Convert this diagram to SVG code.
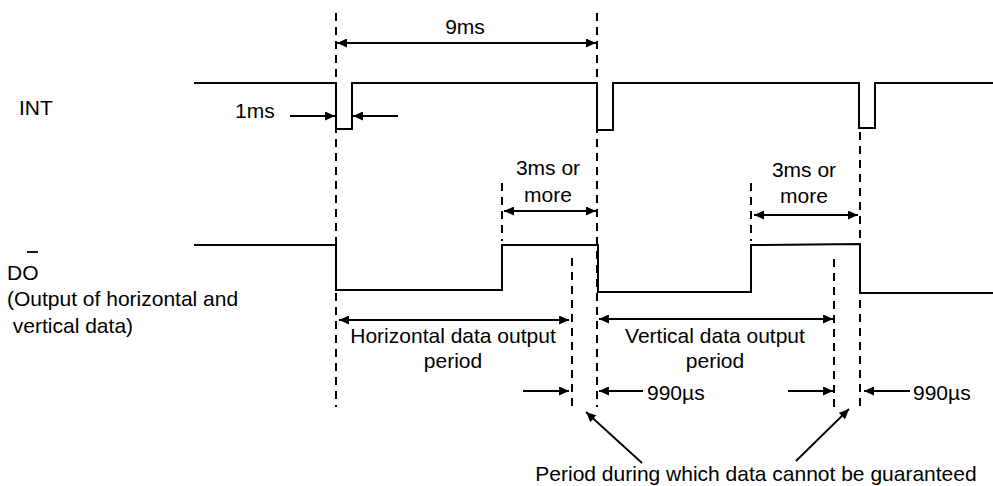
<svg xmlns="http://www.w3.org/2000/svg" width="993" height="486" viewBox="0 0 993 486">
<defs>
<style>
.sig{fill:none;stroke:#000;stroke-width:2}
.dash{fill:none;stroke:#000;stroke-width:2;stroke-dasharray:8 6}
.arr{fill:none;stroke:#000;stroke-width:1.8;marker-end:url(#ah)}
.dbl{fill:none;stroke:#000;stroke-width:1.8;marker-end:url(#ah);marker-start:url(#ah)}
text{font-family:"Liberation Sans",Arial,sans-serif;font-size:21px;fill:#000}
.c{text-anchor:middle}
</style>
<marker id="ah" markerUnits="userSpaceOnUse" markerWidth="11" markerHeight="9" refX="10" refY="4.5" orient="auto-start-reverse">
<path d="M0,0 L10,4.5 L0,9 Z" fill="#000"/>
</marker>
</defs>
<rect width="993" height="486" fill="#fff"/>

<g id="guides">
<line class="dash" x1="336" y1="13" x2="336" y2="407"/>
<line class="dash" x1="597" y1="13" x2="597" y2="407"/>
<line class="dash" x1="860" y1="132" x2="860" y2="407"/>
<line class="dash" x1="502" y1="183" x2="502" y2="241"/>
<line class="dash" x1="751" y1="183" x2="751" y2="241"/>
<line class="dash" x1="572" y1="258" x2="572" y2="407"/>
<line class="dash" x1="834" y1="259" x2="834" y2="407"/>
</g>

<g id="int-signal">
<path class="sig" d="M194,83 H336 V129 H352 V83 H597 V130 H613 V83 H859 V128 H875 V83 H993"/>
<text x="19" y="115">INT</text>
</g>

<g id="do-signal">
<path class="sig" d="M194,245 H336 V290 H502 V245 H598 V292 H751 V245 L860,244 V293 H993"/>
<text x="7" y="280">DO</text>
<line x1="27" y1="252" x2="38" y2="252" stroke="#000" stroke-width="1.8"/>
<text x="7" y="306">(Output of horizontal and</text>
<text x="7" y="333" xml:space="preserve"> vertical data)</text>
</g>

<g id="connectors">
<line class="dbl" x1="337" y1="43" x2="596" y2="43"/>
<line class="arr" x1="290" y1="116" x2="335" y2="116"/>
<line class="arr" x1="398" y1="116" x2="353" y2="116"/>
<line class="dbl" x1="504" y1="211" x2="596" y2="211"/>
<line class="dbl" x1="754" y1="215" x2="858" y2="215"/>
<line class="dbl" x1="339" y1="320" x2="569" y2="320"/>
<line class="dbl" x1="599" y1="319" x2="833" y2="319"/>
<line class="arr" x1="523" y1="391" x2="569" y2="391"/>
<line class="arr" x1="643" y1="391" x2="599" y2="391"/>
<line class="arr" x1="788" y1="391" x2="833" y2="391"/>
<line class="arr" x1="910" y1="391" x2="864" y2="391"/>
<line class="arr" x1="642" y1="463" x2="586" y2="412"/>
<line class="arr" x1="796" y1="461" x2="849" y2="409"/>
</g>

<g id="labels">
<text x="235" y="118">1ms</text>
<text class="c" x="465" y="34">9ms</text>
<text class="c" x="548" y="175">3ms or</text>
<text class="c" x="548" y="202">more</text>
<text class="c" x="804" y="177">3ms or</text>
<text class="c" x="804" y="203">more</text>
<text class="c" x="453" y="343">Horizontal data output</text>
<text class="c" x="453" y="368">period</text>
<text class="c" x="715" y="343">Vertical data output</text>
<text class="c" x="715" y="368">period</text>
<text x="647" y="400">990µs</text>
<text x="913" y="400">990µs</text>
<text class="c" x="756" y="481">Period during which data cannot be guaranteed</text>
</g>
</svg>
